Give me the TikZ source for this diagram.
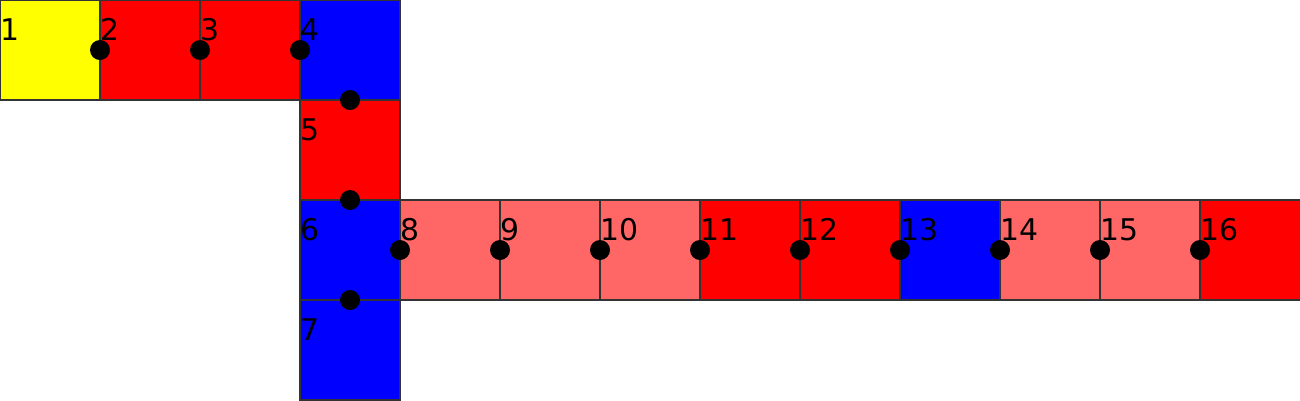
\documentclass[tikz,border=0pt]{standalone}
\usepackage{fontspec}
\setmainfont{DejaVu Sans}
\usetikzlibrary{positioning}
\definecolor{cellyellow}{RGB}{255,255,0}
\definecolor{cellred}{RGB}{255,0,0}
\definecolor{cellpink}{RGB}{255,102,102}
\definecolor{cellblue}{RGB}{0,0,255}

\begin{document}
\begin{tikzpicture}[
      cell/.style={rectangle, minimum size=1cm, inner sep=0pt, outer sep=0pt, draw=black!80, line width=0.3pt},
      num/.style={anchor=base west, inner sep=0pt, xshift=0pt, yshift=-0.4cm, font=\fontsize{8.5}{10}\selectfont},
      dot/.style={circle, fill=black, minimum size=0.2cm, inner sep=0pt}
    ]
      \useasboundingbox (0,0) rectangle (13,-4);

      % Top row
      \node[cell, fill=cellyellow, label={[num]north west:1}] (c1) at (0.5,-0.5) {};
      \node[cell, fill=cellred, right=0pt of c1, label={[num]north west:2}] (c2) {};
      \node[cell, fill=cellred, right=0pt of c2, label={[num]north west:3}] (c3) {};
      \node[cell, fill=cellblue, right=0pt of c3, label={[num]north west:4}] (c4) {};

      % Column going down
      \node[cell, fill=cellred, below=0pt of c4, label={[num]north west:5}] (c5) {};
      \node[cell, fill=cellblue, below=0pt of c5, label={[num]north west:6}] (c6) {};
      \node[cell, fill=cellblue, below=0pt of c6, label={[num]north west:7}] (c7) {};

      % Long row
      \node[cell, fill=cellpink, right=0pt of c6, label={[num]north west:8}] (c8) {};
      \node[cell, fill=cellpink, right=0pt of c8, label={[num]north west:9}] (c9) {};
      \node[cell, fill=cellpink, right=0pt of c9, label={[num]north west:10}] (c10) {};
      \node[cell, fill=cellred, right=0pt of c10, label={[num]north west:11}] (c11) {};
      \node[cell, fill=cellred, right=0pt of c11, label={[num]north west:12}] (c12) {};
      \node[cell, fill=cellblue, right=0pt of c12, label={[num]north west:13}] (c13) {};
      \node[cell, fill=cellpink, right=0pt of c13, label={[num]north west:14}] (c14) {};
      \node[cell, fill=cellpink, right=0pt of c14, label={[num]north west:15}] (c15) {};
      \node[cell, fill=cellred, right=0pt of c15, label={[num]north west:16}] (c16) {};

      % Joints
      \foreach \c in {c1,c2,c3,c6,c8,c9,c10,c11,c12,c13,c14,c15}
        \node[dot] (d-\c) at (\c.east) {};
      \foreach \c in {c4,c5,c6}
        \node[dot] (s-\c) at (\c.south) {};
    \end{tikzpicture}
\end{document}
